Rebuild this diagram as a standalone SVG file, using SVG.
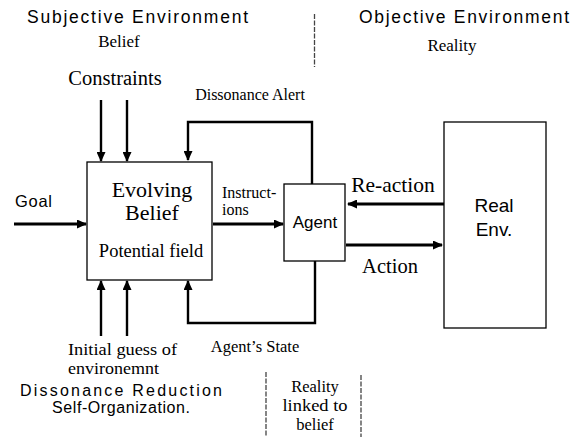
<svg xmlns="http://www.w3.org/2000/svg" width="580" height="437" viewBox="0 0 580 437">
<style>
.sans{font-family:"Liberation Sans",Arial,sans-serif;fill:#000}
.serif{font-family:"Liberation Serif","Times New Roman",serif;fill:#000}
.box{fill:#fff;stroke:#000;stroke-width:1.3}
.sep{stroke:#444;stroke-width:1.3;stroke-dasharray:5 1.5;fill:none}
.thick{stroke:#000;stroke-width:3;fill:none}
.med{stroke:#000;stroke-width:2.4;fill:none}
</style>
<defs>
<marker id="ah" markerUnits="userSpaceOnUse" markerWidth="10" markerHeight="9" refX="9" refY="4.5" orient="auto">
<path d="M0,0 L10,4.5 L0,9 Z" fill="#000"/>
</marker>
</defs>
<rect width="580" height="437" fill="#fff"/>

<g id="headers">
<text class="sans" x="27" y="23" font-size="17.5" textLength="221" lengthAdjust="spacing">Subjective Environment</text>
<text class="serif" x="119" y="47" font-size="17" text-anchor="middle">Belief</text>
<text class="sans" x="359" y="23" font-size="17.5" textLength="210" lengthAdjust="spacing">Objective Environment</text>
<text class="serif" x="452" y="51" font-size="17" text-anchor="middle">Reality</text>
<line class="sep" x1="314.5" y1="14" x2="314.5" y2="67"/>
</g>

<g id="evolving-belief">
<rect class="box" x="87" y="162" width="125" height="118"/>
<text class="serif" x="152" y="197" font-size="22" text-anchor="middle">Evolving</text>
<text class="serif" x="152" y="220" font-size="22" text-anchor="middle">Belief</text>
<text class="serif" x="151" y="257" font-size="18.5" text-anchor="middle">Potential field</text>
</g>

<g id="agent">
<rect class="box" x="284" y="184" width="61" height="77"/>
<text class="sans" x="315" y="228" font-size="17" text-anchor="middle">Agent</text>
</g>

<g id="real-env">
<rect class="box" x="444" y="122" width="102" height="206"/>
<text class="sans" x="494" y="212" font-size="19" text-anchor="middle">Real</text>
<text class="sans" x="494" y="236" font-size="19" text-anchor="middle">Env.</text>
</g>

<g id="constraints">
<text class="serif" x="115" y="85" font-size="20.5" text-anchor="middle">Constraints</text>
</g>

<g id="goal">
<text class="sans" x="15" y="207" font-size="16.5" textLength="37" lengthAdjust="spacing">Goal</text>
</g>

<g id="initial-guess">
<text class="serif" x="68" y="355" font-size="16" textLength="109" lengthAdjust="spacingAndGlyphs">Initial guess of</text>
<text class="serif" x="68" y="374" font-size="16" textLength="91" lengthAdjust="spacingAndGlyphs">environemnt</text>
</g>

<g id="dissonance-reduction">
<text class="sans" x="20" y="396" font-size="16" textLength="202" lengthAdjust="spacing">Dissonance Reduction</text>
<text class="sans" x="52" y="413" font-size="16" textLength="138" lengthAdjust="spacing">Self-Organization.</text>
</g>

<g id="reality-linked">
<line class="sep" x1="266" y1="372" x2="266" y2="437"/>
<line class="sep" x1="361" y1="375" x2="361" y2="437"/>
<text class="serif" x="315" y="392" font-size="16.5" text-anchor="middle">Reality</text>
<text class="serif" x="315" y="411" font-size="16.5" text-anchor="middle" textLength="65" lengthAdjust="spacingAndGlyphs">linked to</text>
<text class="serif" x="315" y="430" font-size="16.5" text-anchor="middle">belief</text>
</g>

<g id="connectors">
<line class="thick" x1="14" y1="224" x2="86" y2="224" marker-end="url(#ah)"/>
<line class="med" x1="101" y1="100" x2="101" y2="161" marker-end="url(#ah)"/>
<line class="med" x1="127" y1="100" x2="127" y2="161" marker-end="url(#ah)"/>
<line class="med" x1="101" y1="336" x2="101" y2="281" marker-end="url(#ah)"/>
<line class="med" x1="127" y1="336" x2="127" y2="281" marker-end="url(#ah)"/>
<polyline class="med" points="312,184 312,122 188,122 188,160" marker-end="url(#ah)"/>
<polyline class="med" points="315,261 315,323 188,323 188,281" marker-end="url(#ah)"/>
<line class="thick" x1="213" y1="224" x2="283" y2="224" marker-end="url(#ah)"/>
<line class="thick" x1="444" y1="204" x2="348" y2="204" marker-end="url(#ah)"/>
<line class="thick" x1="346" y1="245" x2="442" y2="245" marker-end="url(#ah)"/>
<text class="serif" x="250" y="100" font-size="16" text-anchor="middle">Dissonance Alert</text>
<text class="serif" x="222" y="198" font-size="16">Instruct-</text>
<text class="serif" x="222" y="215" font-size="16">ions</text>
<text class="serif" x="393" y="192" font-size="21.5" text-anchor="middle">Re-action</text>
<text class="serif" x="390" y="273" font-size="20.5" text-anchor="middle">Action</text>
<text class="serif" x="255" y="352" font-size="16.5" text-anchor="middle">Agent’s State</text>
</g>
</svg>
